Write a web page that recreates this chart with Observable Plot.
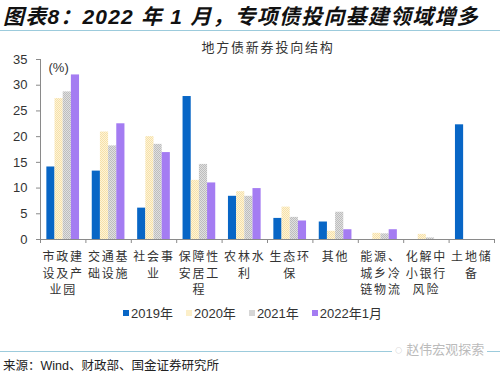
<!DOCTYPE html>
<html><head><meta charset="utf-8">
<script src="https://cdn.jsdelivr.net/npm/d3@7"></script>
<script src="https://cdn.jsdelivr.net/npm/@observablehq/plot@0.6"></script>
<style>
  body { margin:0; width:500px; height:375px; position:relative; background:#fff; overflow:hidden;
         font-family:"Liberation Sans","Noto Sans CJK SC",sans-serif; color:#333; }
  #title { position:absolute; left:3px; top:0px; font-size:21px; font-weight:bold; font-style:italic; color:#111; white-space:nowrap; letter-spacing:1.2px; }
  #tline { position:absolute; left:0; top:30px; width:500px; height:1px; background:#9ccbdc; }
  #sub { position:absolute; left:0; width:536px; top:37px; text-align:center; font-size:13px; letter-spacing:1.8px; color:#333; }
  #chart { position:absolute; left:0; top:50px; }
  #legend { position:absolute; top:303px; left:0; width:500px; display:flex; justify-content:center; gap:13px; font-size:13px; color:#333; padding-left:5px; box-sizing:border-box; }
  #legend .it { display:flex; align-items:center; }
  #legend .sw { width:6px; height:6px; margin-right:2px; display:inline-block; }
  #bline { position:absolute; left:0; top:351px; width:500px; height:1px; background:#9ccbdc; }
  #src { position:absolute; left:3px; top:355px; font-size:12.5px; color:#222; }
  #wm { position:absolute; left:392px; top:339px; font-size:13px; color:#bbb; background:#fff; padding:0 3px; }
  g[aria-label="x-axis tick label"] text { letter-spacing:1.8px; }
</style>
</head><body>
<svg width="0" height="0" style="position:absolute">
  <defs>
    <pattern id="p2020" width="2" height="2" patternUnits="userSpaceOnUse">
      <rect width="2" height="2" fill="#FFF4D6"/><rect width="1" height="1" fill="#F5E0AA"/><rect x="1" y="1" width="1" height="1" fill="#F5E0AA"/>
    </pattern>
    <pattern id="p2021" width="2" height="2" patternUnits="userSpaceOnUse">
      <rect width="2" height="2" fill="#E0E0E0"/><rect width="1" height="1" fill="#BDBDBD"/><rect x="1" y="1" width="1" height="1" fill="#BDBDBD"/>
    </pattern>
  </defs>
</svg>
<div id="title">图表8：2022 年 1 月，专项债投向基建领域增多</div>
<div id="tline"></div>
<div id="sub">地方债新券投向结构</div>
<div id="chart"></div>
<div id="legend"></div>
<div id="bline"></div>
<div id="wm">◌ 赵伟宏观探索</div>
<div id="src">来源：Wind、财政部、国金证券研究所</div>
<script>
const categories = ["市政建设及产业园","交通基础设施","社会事业","保障性安居工程","农林水利","生态环保","其他","能源、城乡冷链物流","化解中小银行风险","土地储备"];
const tickLabels = ["市政建\n设及产\n业园","交通基\n础设施","社会事\n业","保障性\n安居工\n程","农林水\n利","生态环\n保","其他","能源、\n城乡冷\n链物流","化解中\n小银行\n风险","土地储\n备"];
const seriesNames = ["2019年","2020年","2021年","2022年1月"];
const v2019 = [14.1, 13.3, 6.1, 27.8, 8.4, 4.1, 3.4, 0, 0, 22.3];
const v2020 = [27.4, 20.9, 20.0, 11.5, 9.3, 6.3, 1.6, 1.2, 1.0, 0];
const v2021 = [28.7, 18.2, 18.5, 14.6, 8.4, 4.3, 5.3, 1.1, 0.3, 0];
const v2022 = [32.0, 22.5, 16.9, 11.0, 9.9, 3.6, 1.9, 1.9, 0, 0];
const yTicks = [0, 5, 10, 15, 20, 25, 30, 35];

const seriesValues = [v2019, v2020, v2021, v2022];
const fills = ["#0866C6", "url(#p2020)", "url(#p2021)", "#A47CF2"];
const legendColors = ["#0866C6", "#FCEFC9", "#D6D6D6", "#A47CF2"];
const barW = 0.18;

const rows = [];
seriesValues.forEach((vals, s) => vals.forEach((v, i) => rows.push({i, s, cat: categories[i], series: seriesNames[s], value: v})));

const bounds = d3.range(-0.5, categories.length, 1);

const marks = seriesValues.map((_, s) =>
  Plot.rect(rows.filter(d => d.s === s), {
    x1: d => d.i + (d.s - 2) * barW,
    x2: d => d.i + (d.s - 1) * barW,
    y1: 0, y2: "value", fill: fills[s]
  })
);

const chart = Plot.plot({
  width: 500, height: 250,
  marginLeft: 40, marginRight: 6, marginTop: 9, marginBottom: 61,
  style: {fontFamily: '"Liberation Sans","Noto Sans CJK SC",sans-serif', color: "#333", background: "transparent"},
  x: {type: "linear", domain: [-0.5, categories.length - 0.5], axis: null},
  y: {domain: [0, 35], axis: null},
  marks: [
    ...marks,
    Plot.ruleY([0], {stroke: "#8a8a8a"}),
    Plot.ruleX([-0.5], {y1: 0, y2: 35, stroke: "#8a8a8a"}),
    Plot.axisY(yTicks, {tickSize: 4, tickPadding: 9, fontSize: 13, stroke: "#8a8a8a", fill: "#333", label: null}),
    Plot.axisX(bounds, {tickSize: 4, tickFormat: () => "", stroke: "#8a8a8a", label: null}),
    Plot.axisX(d3.range(categories.length), {tickSize: 0, tickPadding: 10, fontSize: 12, lineHeight: 1.38, tickFormat: i => tickLabels[i], fill: "#333", label: null}),
    Plot.text(["(%)"], {frameAnchor: "top-left", dx: 8, dy: 3, fontSize: 13, fill: "#333"})
  ]
});
document.getElementById("chart").appendChild(chart);

const lg = document.getElementById("legend");
seriesNames.forEach((n, s) => {
  const it = document.createElement("div"); it.className = "it";
  const sw = document.createElement("span"); sw.className = "sw"; sw.style.background = legendColors[s];
  it.appendChild(sw); it.appendChild(document.createTextNode(n)); lg.appendChild(it);
});
</script>
</body></html>
